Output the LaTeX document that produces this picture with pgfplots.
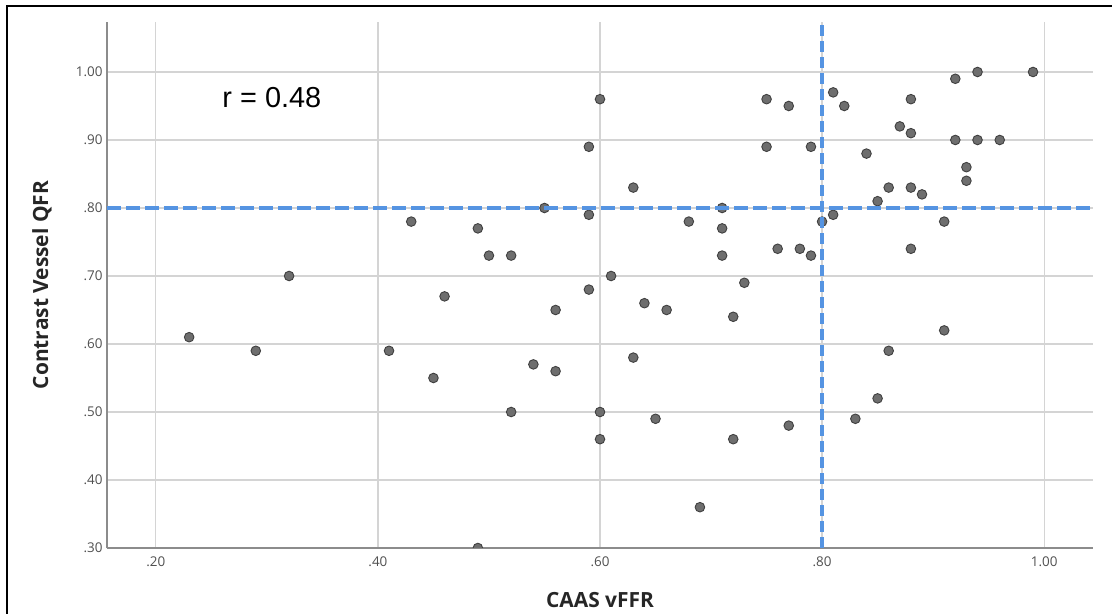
\documentclass[border=0pt]{standalone}
\usepackage{pgfplots}
\pgfplotsset{compat=1.18}
\usepackage{fontspec}
\setmainfont{Open Sans}
\newfontfamily\arialfont{Liberation Sans}
\definecolor{refblue}{RGB}{85,148,226}
\definecolor{gridgray}{RGB}{212,212,212}
\definecolor{axisgray}{RGB}{140,140,140}
\definecolor{ticktext}{RGB}{80,80,80}
\definecolor{markfill}{RGB}{110,110,110}
\begin{document}
\begin{tikzpicture}
\useasboundingbox (-107bp,-66bp) rectangle (1005bp,548bp);
\draw[black, line width=2bp] (-100bp,-70bp) -- (-100bp,542bp) -- (1010bp,542bp);
\begin{axis}[
  at={(0,0)}, anchor=south west, scale only axis,
  width=986bp, height=526bp,
  xmin=0.156, xmax=1.044, ymin=0.30, ymax=1.0735,
  axis x line=bottom, axis y line=left,
  axis line style={-, draw=axisgray, line width=1.2bp},
  xtick={0.2,0.4,0.6,0.8,1.0}, xticklabels={.20,.40,.60,.80,1.00},
  ytick={0.3,0.4,0.5,0.6,0.7,0.8,0.9,1.0},
  yticklabels={.30,.40,.50,.60,.70,.80,.90,1.00},
  major tick length=0pt,
  grid=major, major grid style={gridgray, line width=1.2bp},
  tick label style={font=\fontsize{13.5}{16}\selectfont, text=ticktext},
  xticklabel style={yshift=-5bp},
  yticklabel style={xshift=-1bp},
  xlabel={CAAS vFFR}, ylabel={Contrast Vessel QFR},
  label style={font=\fontsize{21}{24}\selectfont\bfseries, text=black!85},
  xlabel style={at={(axis description cs:0.5,-0.0989)}, anchor=center},
  ylabel style={at={(axis description cs:-0.066,0.5)}, anchor=center},
  clip marker paths=true,
]
\addplot[only marks, mark=*, mark size=4.8bp,
  mark options={fill=markfill, draw=black!75, line width=0.9bp}] coordinates {
(0.23,0.61) (0.29,0.59) (0.32,0.70) (0.41,0.59) (0.43,0.78) (0.45,0.55)
(0.46,0.67) (0.49,0.77) (0.49,0.30) (0.50,0.73) (0.52,0.73) (0.52,0.50)
(0.54,0.57) (0.55,0.80) (0.56,0.65) (0.56,0.56) (0.59,0.89) (0.59,0.79)
(0.59,0.68) (0.60,0.96) (0.60,0.50) (0.60,0.46) (0.61,0.70) (0.63,0.83)
(0.63,0.58) (0.64,0.66) (0.65,0.49) (0.66,0.65) (0.68,0.78) (0.69,0.36)
(0.71,0.80) (0.71,0.77) (0.71,0.73) (0.72,0.64) (0.72,0.46) (0.73,0.69)
(0.75,0.96) (0.75,0.89) (0.76,0.74) (0.77,0.95) (0.77,0.48) (0.78,0.74)
(0.79,0.89) (0.79,0.73) (0.80,0.78) (0.81,0.97) (0.81,0.79) (0.82,0.95)
(0.83,0.49) (0.84,0.88) (0.85,0.81) (0.85,0.52) (0.86,0.83) (0.86,0.59)
(0.87,0.92) (0.88,0.96) (0.88,0.91) (0.88,0.83) (0.88,0.74) (0.89,0.82)
(0.91,0.78) (0.91,0.62) (0.92,0.99) (0.92,0.90) (0.93,0.86) (0.93,0.84)
(0.94,1.00) (0.94,0.90) (0.96,0.90) (0.99,1.00)
};
\addplot[refblue, line width=3.6bp, dash pattern=on 14bp off 5bp] coordinates {(0.156,0.8) (1.044,0.8)};
\addplot[refblue, line width=3.6bp, dash pattern=on 11bp off 5bp] coordinates {(0.8,0.30) (0.8,1.0735)};
\node[font=\arialfont\fontsize{29}{32}\selectfont, text=black] at (axis cs:0.3045,0.962) {r = 0.48};
\end{axis}
\end{tikzpicture}
\end{document}
